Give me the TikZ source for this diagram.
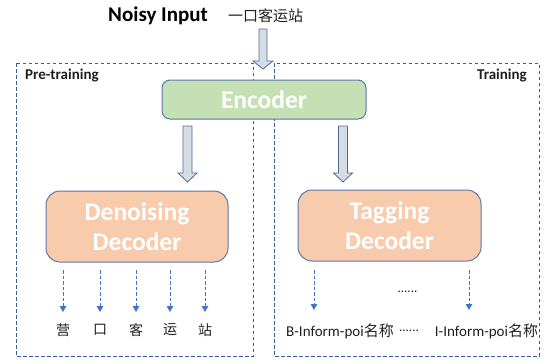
\documentclass[tikz,border=0pt]{standalone}
\usepackage{fontspec}
\setmainfont{Carlito}
\newfontfamily\cjk{Noto Sans CJK SC}
\usetikzlibrary{arrows.meta}
\definecolor{encfill}{HTML}{C5E0B4}
\definecolor{decfill}{HTML}{F8CBAD}
\definecolor{boxline}{HTML}{5A78A8}
\definecolor{dashline}{HTML}{3A5E9C}
\definecolor{arrfill}{HTML}{D6DCE5}
\definecolor{arrline}{HTML}{4F6A94}
\definecolor{outarr}{HTML}{4472C4}
\definecolor{txt}{HTML}{202020}
\begin{document}
\begin{tikzpicture}[x=1pt,y=-1pt,
  region/.style={draw=dashline, dash pattern=on 3.5pt off 2.5pt, line width=0.8pt},
  encbox/.style={draw=boxline, fill=encfill, rounded corners=8pt, line width=1pt, inner sep=0pt},
  decbox/.style={draw=boxline, fill=decfill, rounded corners=14pt, line width=1pt, inner sep=0pt},
  blk/.style={draw=arrline, fill=arrfill, line width=0.8pt, line join=miter},
  outline/.style={draw=outarr, dash pattern=on 3.5pt off 2pt, line width=1pt, -{Triangle[length=6pt,width=6.5pt]}},
  boxtext/.style={text=white, font=\fontsize{25.5}{30}\selectfont\bfseries, align=center},
  cjklab/.style={text=txt, font=\cjk\fontsize{14}{16}\selectfont, inner sep=0pt},
  taglab/.style={text=txt, font=\fontsize{15}{17}\selectfont, inner sep=0pt, anchor=base},
  dots/.style={text=txt, font=\fontsize{13}{15}\selectfont, inner sep=0pt, anchor=base},
  regionlab/.style={text=txt, font=\fontsize{15}{17}\selectfont\bfseries, inner sep=0pt},
]
\useasboundingbox (0,0) rectangle (545,360);

% regions
\draw[region] (16,63) rectangle (253,356);
\draw[region] (274,63) rectangle (539,356);
\node[regionlab, anchor=base west] (pre) at (25,79.5) {Pre-training};
\node[regionlab, anchor=base east] (tr) at (527,79.5) {Training};

% title
\node[text=black, font=\fontsize{21}{23}\selectfont\bfseries, inner sep=0pt, anchor=base west] (noisy) at (108,21) {Noisy Input};
\node[text=txt, font=\cjk\fontsize{15}{17}\selectfont, inner sep=0pt, anchor=base west] (inp) at (228,21.5) {一口客运站};

% input block arrow
\draw[blk] (259,29) -- (267,29) -- (267,61) -- (273,61) -- (263,69) -- (253,61) -- (259,61) -- cycle;

% encoder
\node[encbox, minimum width=204pt, minimum height=39pt, boxtext] (enc) at (264,99.5) {Encoder};

% encoder -> decoders block arrows
\draw[blk] (183,126) -- (192,126) -- (192,173) -- (197,173) -- (187.5,182) -- (178,173) -- (183,173) -- cycle;
\draw[blk] (338.5,126) -- (347.5,126) -- (347.5,173) -- (352.5,173) -- (343,182) -- (333.5,173) -- (338.5,173) -- cycle;

% decoders
\node[decbox, minimum width=182pt, minimum height=71pt, boxtext] (den) at (137,226.5) {Denoising\\Decoder};
\node[decbox, minimum width=183pt, minimum height=71pt, boxtext] (tag) at (389.5,225.5) {Tagging\\Decoder};

% denoising outputs
\node[cjklab] (o1) at (63,330) {营};
\node[cjklab] (o2) at (100,330) {口};
\node[cjklab] (o3) at (136,330) {客};
\node[cjklab] (o4) at (170,330) {运};
\node[cjklab] (o5) at (205,330) {站};
\foreach \i in {1,...,5}{
  \draw[outline] (o\i |- 0,270) -- (o\i |- 0,312);
}

% tagging outputs
\node[taglab] (t1) at (340,336) {B-Inform-poi{\cjk 名称}};
\node[dots] (tdots) at (409,331) {......};
\node[taglab] (t2) at (486.5,336) {I-Inform-poi{\cjk 名称}};
\node[dots] (mdots) at (407.5,292) {......};
\coordinate (a1) at (314,270);
\coordinate (a2) at (469,270);
\draw[outline] (a1) -- ++(0,40);
\draw[outline] (a2) -- ++(0,40);
\end{tikzpicture}
\end{document}
